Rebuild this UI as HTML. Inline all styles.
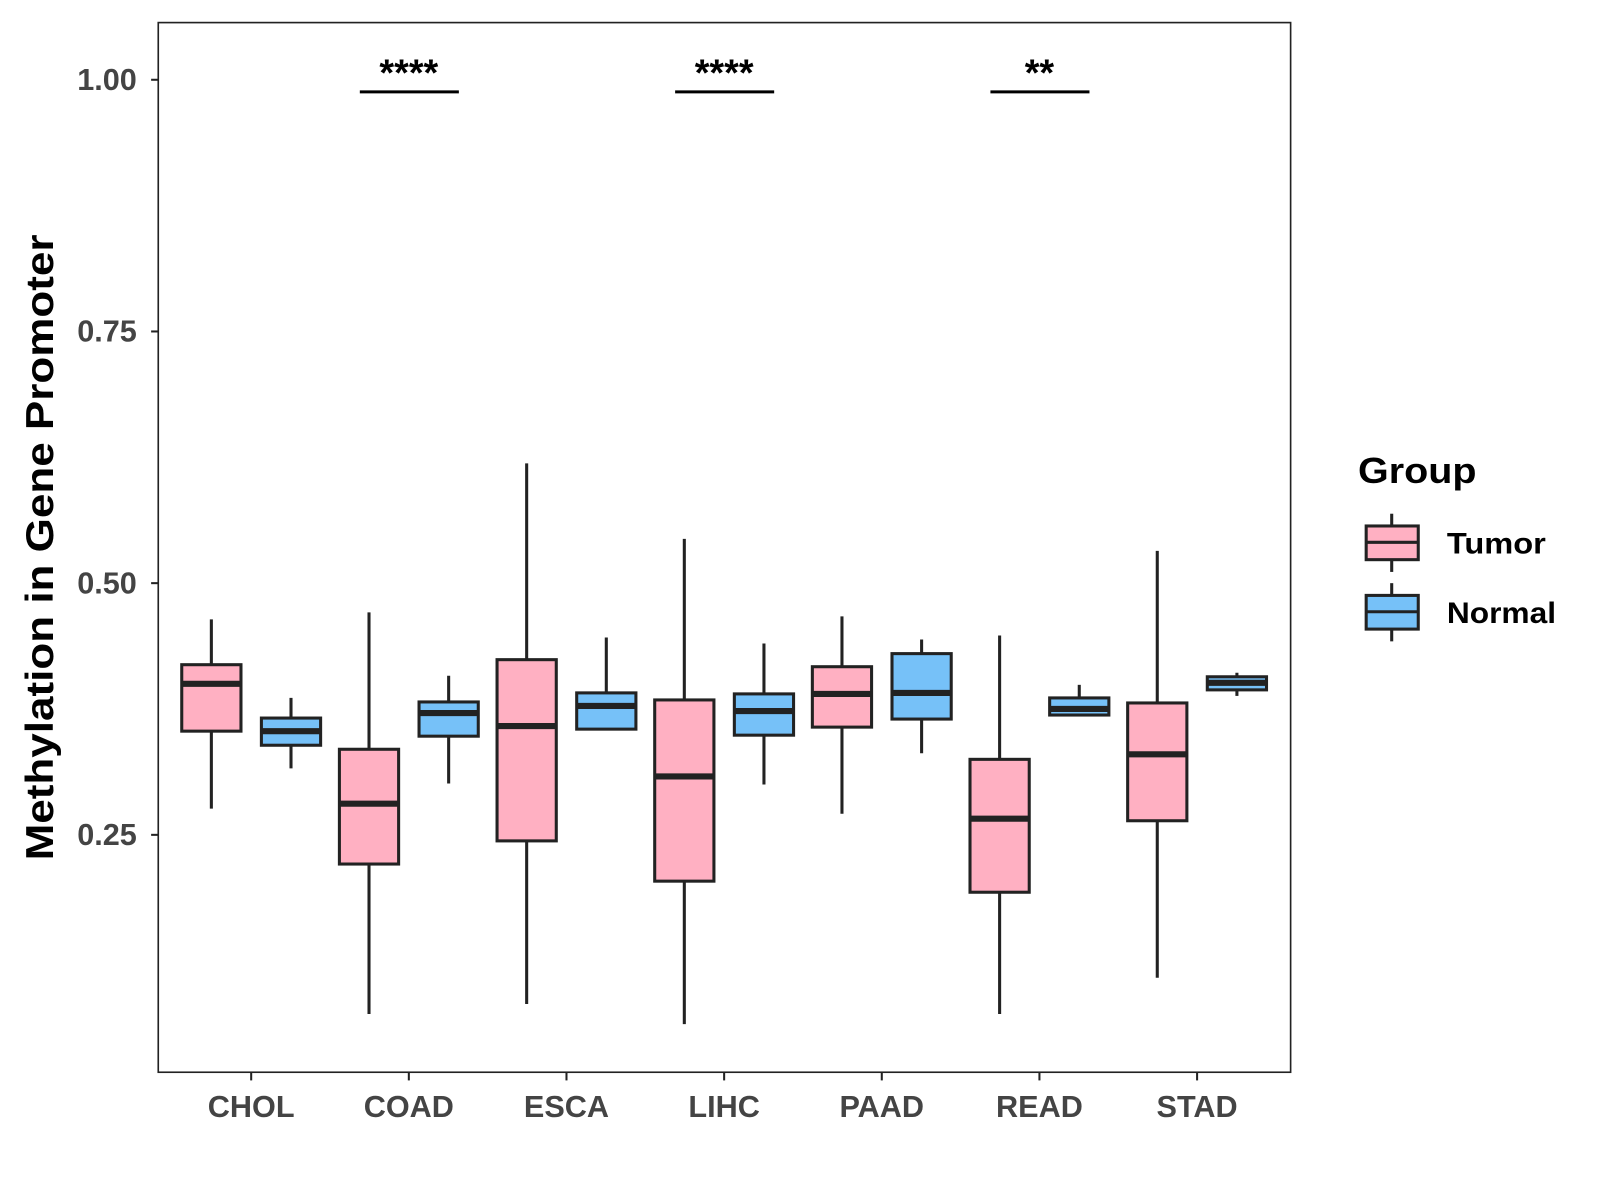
<!DOCTYPE html>
<html><head><meta charset="utf-8"><style>
html,body{margin:0;padding:0;background:#fff}
svg{display:block}
text{font-family:"Liberation Sans",sans-serif;font-weight:bold}
</style></head><body>
<svg id="chart" width="1600" height="1200" viewBox="0 0 1567 1175" xmlns="http://www.w3.org/2000/svg">
<rect width="1567" height="1175" fill="#fff"/>
<g id="marks"></g>
<rect x="155" y="22" width="1109" height="1028" fill="none" stroke="#222" stroke-width="1.6"/>
<text transform="translate(52,536) rotate(-90)" text-anchor="middle" font-size="38" textLength="613" lengthAdjust="spacingAndGlyphs" fill="#000">Methylation in Gene Promoter</text>
<g>
<text x="1330" y="473" font-size="35" textLength="116" lengthAdjust="spacingAndGlyphs">Group</text>
<g>
<line x1="1363" y1="503" x2="1363" y2="560" stroke="#222" stroke-width="3"/>
<rect x="1338" y="515" width="51" height="33" fill="#FFB0C2" stroke="#222" stroke-width="3"/>
<line x1="1338" y1="531" x2="1389" y2="531" stroke="#222" stroke-width="3"/>
<text x="1417" y="542" font-size="29" textLength="97" lengthAdjust="spacingAndGlyphs">Tumor</text>
</g>
<g>
<line x1="1363" y1="571" x2="1363" y2="628" stroke="#222" stroke-width="3"/>
<rect x="1338" y="583" width="51" height="33" fill="#76C1F8" stroke="#222" stroke-width="3"/>
<line x1="1338" y1="599" x2="1389" y2="599" stroke="#222" stroke-width="3"/>
<text x="1417" y="610" font-size="29" textLength="107" lengthAdjust="spacingAndGlyphs">Normal</text>
</g>
</g>
</svg>
<script>
const categories=["CHOL","COAD","ESCA","LIHC","PAAD","READ","STAD"];
// [low, q1, median, q3, high]
const tumor=[[0.276,0.353,0.400,0.419,0.464],[0.072,0.221,0.281,0.335,0.471],[0.082,0.244,0.358,0.424,0.619],[0.062,0.204,0.308,0.384,0.544],[0.271,0.357,0.390,0.417,0.467],[0.072,0.193,0.266,0.325,0.448],[0.108,0.264,0.330,0.381,0.532]];
const normal=[[0.316,0.339,0.353,0.366,0.386],[0.301,0.348,0.371,0.382,0.408],[0.355,0.355,0.378,0.391,0.446],[0.300,0.349,0.373,0.390,0.440],[0.331,0.365,0.391,0.430,0.444],[0.369,0.369,0.375,0.386,0.399],[0.388,0.394,0.401,0.407,0.411]];
const yTicks=[0.25,0.50,0.75,1.00];
const yTickLabels=["0.25","0.50","0.75","1.00"];
const sigCategories=["COAD","LIHC","READ"];
const sigLabels=["****","****","**"];
const sigLevel=0.988;

const NS="http://www.w3.org/2000/svg";
const svg=document.getElementById('chart');
const g=document.getElementById('marks');
function y(v){return 78+(1-v)*986;}
function x(i){return 246+i*154.4;}
function mk(tag,attrs,parent){const e=document.createElementNS(NS,tag);for(const k in attrs)e.setAttribute(k,attrs[k]);(parent||g).appendChild(e);return e;}

yTicks.forEach((t,i)=>{
  const tk=mk('line',{x1:148,x2:155,y1:y(t),y2:y(t),stroke:'#222','stroke-width':2});
  
  
  const tl=mk('text',{x:134,y:y(t)+10,'text-anchor':'end','font-size':30,fill:'#444'});
  tl.textContent=yTickLabels[i];
  
  
});
categories.forEach((c,i)=>{
  const tk=mk('line',{x1:x(i),x2:x(i),y1:1050,y2:1058,stroke:'#222','stroke-width':2});
  
  
  const tl=mk('text',{x:x(i),y:1094,'text-anchor':'middle','font-size':30,fill:'#444'});
  tl.textContent=c;
  
  
});
function box(d,cx,fill,name){
  const grp=mk('g',{});
  
  
  const w=58;
  mk('line',{x1:cx,x2:cx,y1:y(d[4]),y2:y(d[0]),stroke:'#222','stroke-width':3},grp);
  mk('rect',{x:cx-w/2,y:y(d[3]),width:w,height:Math.max(y(d[1])-y(d[3]),1),fill:fill,stroke:'#222','stroke-width':3},grp);
  mk('line',{x1:cx-w/2,x2:cx+w/2,y1:y(d[2]),y2:y(d[2]),stroke:'#222','stroke-width':6},grp);
}
categories.forEach((c,i)=>{
  box(tumor[i],x(i)-39,'#FFB0C2','box-tumor-'+c.toLowerCase());
  box(normal[i],x(i)+39,'#76C1F8','box-normal-'+c.toLowerCase());
});
sigCategories.forEach((c,k)=>{
  const i=categories.indexOf(c);
  const ln=mk('line',{x1:x(i)-48,x2:x(i)+49,y1:y(sigLevel),y2:y(sigLevel),stroke:'#000','stroke-width':3});
  
  
  const t=mk('text',{x:x(i),y:y(sigLevel)-6,'text-anchor':'middle','font-size':37,fill:'#000'});
  t.textContent=sigLabels[k];
  
  
});
</script>
</body></html>
